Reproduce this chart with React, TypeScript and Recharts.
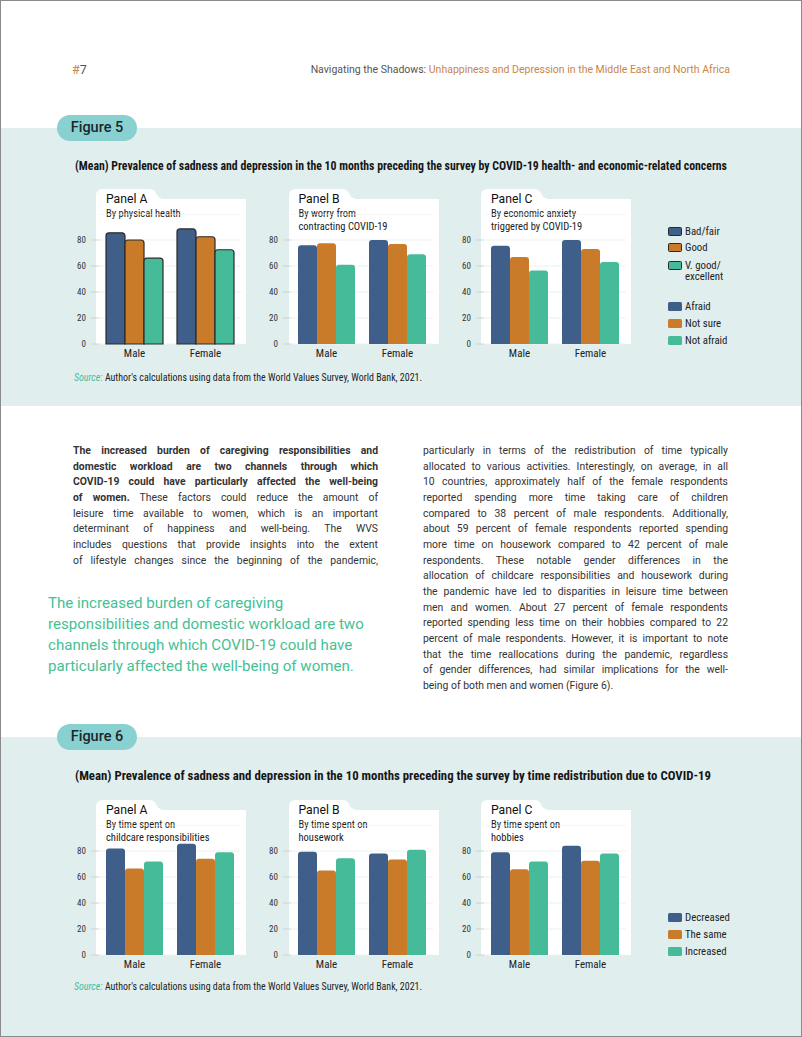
import React from "react";
import { BarChart, Bar, XAxis, YAxis, CartesianGrid } from "recharts";

const genders = ["Male", "Female"];

// Figure 5
const healthBadFair = [85.5, 88.5];
const healthGood = [80, 82.5];
const healthVeryGood = [66, 72.5];
const worryAfraid = [76, 80];
const worryNotSure = [77.5, 77];
const worryNotAfraid = [61, 69];
const anxietyAfraid = [75.5, 80];
const anxietyNotSure = [67, 73];
const anxietyNotAfraid = [56.5, 63];

// Figure 6
const childcareDecreased = [82, 85.5];
const childcareSame = [66.5, 74];
const childcareIncreased = [72, 79];
const houseworkDecreased = [79.5, 78];
const houseworkSame = [65, 73.5];
const houseworkIncreased = [74.5, 81];
const hobbiesDecreased = [79, 84];
const hobbiesSame = [66, 72.5];
const hobbiesIncreased = [72, 78];

const yTicks = [0, 20, 40, 60, 80];

const BLUE = "#3f5e89";
const ORANGE = "#c97b2a";
const GREEN = "#46bb99";
const BG = "#e1eeee";
const PILL = "#88d1d0";
const TEXT = "#333";

const SANS = "Roboto, 'Noto Sans', sans-serif";
const COND = "'Roboto Condensed', 'Liberation Sans Narrow', 'DejaVu Sans Condensed', Roboto, sans-serif";

const rows = (a: number[], b: number[], c: number[]) =>
  genders.map((g, i) => ({ gender: g, a: a[i], b: b[i], c: c[i] }));

const abs = (left: number, top: number, extra: React.CSSProperties = {}): React.CSSProperties => ({
  position: "absolute",
  left,
  top,
  ...extra,
});

type PanelProps = {
  x: number;
  bottom: number;
  title: string;
  sub: string[];
  data: any[];
  outlined?: boolean;
};

const Panel = ({ x, bottom, title, sub, data, outlined }: PanelProps) => {
  const w = 150;
  const h = 155;
  const tw = 57;
  const th = 10;
  const top = bottom - h;
  const d = `M0 ${h} L0 7 Q0 0 7 0 L${tw - 4} 0 Q${tw + 1} 0 ${tw + 3} 4 Q${tw + 5} ${th} ${tw + 12} ${th} L${w} ${th} L${w} ${h} Z`;
  const stroke = outlined ? "#2a2a2a" : "none";
  return (
    <>
      <svg style={abs(x, top)} width={w} height={h}>
        <path d={d} fill="#fff" />
      </svg>
      <div style={abs(x + 10, top + 3, { fontFamily: SANS, fontSize: 12.2, lineHeight: "14px", color: "#111" })}>
        {title}
      </div>
      <div style={abs(x + 10, top + 17.5, { fontFamily: COND, fontSize: 10.5, lineHeight: "13px", color: "#222", whiteSpace: "nowrap" })}>
        {sub.map((s) => (
          <div key={s}>{s}</div>
        ))}
      </div>
      <div style={abs(x + 2.5 - 30, bottom - 130)}>
        <BarChart
          width={172}
          height={152}
          data={data}
          margin={{ top: 0, right: 0, left: 0, bottom: 0 }}
          barGap={0}
          barCategoryGap={7}
        >
          <CartesianGrid vertical={false} stroke="#edf1f1" />
          <XAxis
            dataKey="gender"
            axisLine={false}
            tickLine={false}
            tickSize={0}
            tickMargin={5}
            height={22}
            interval={0}
            tick={{ fontSize: 11, fill: "#222", fontFamily: COND }}
          />
          <YAxis
            domain={[0, 100]}
            ticks={yTicks}
            width={30}
            axisLine={false}
            tickSize={8}
            tickMargin={5}
            tickLine={{ stroke: "#c9d3d3" }}
            tick={{ fontSize: 9, fill: TEXT, fontFamily: COND }}
          />
          <Bar dataKey="a" fill={BLUE} barSize={19} radius={[3, 3, 0, 0]} stroke={stroke} strokeWidth={1.2} isAnimationActive={false} />
          <Bar dataKey="b" fill={ORANGE} barSize={19} radius={[3, 3, 0, 0]} stroke={stroke} strokeWidth={1.2} isAnimationActive={false} />
          <Bar dataKey="c" fill={GREEN} barSize={19} radius={[3, 3, 0, 0]} stroke={stroke} strokeWidth={1.2} isAnimationActive={false} />
        </BarChart>
      </div>
    </>
  );
};

type LegendItem = { color: string; label: string[]; y: number; outlined?: boolean };

const Legend = ({ items }: { items: LegendItem[] }) => (
  <>
    {items.map((it) => (
      <React.Fragment key={it.label.join()}>
        <div
          style={abs(668, it.y - 4.5, {
            width: 14,
            height: 9,
            background: it.color,
            borderRadius: 1.5,
            boxSizing: "border-box",
            border: it.outlined ? "1px solid #2a2a2a" : "none",
          })}
        />
        <div style={abs(685, it.y - 5.5, { fontFamily: COND, fontSize: 10.8, lineHeight: "11px", color: "#222" })}>
          {it.label.map((l) => (
            <div key={l}>{l}</div>
          ))}
        </div>
      </React.Fragment>
    ))}
  </>
);

const Pill = ({ top, text }: { top: number; text: string }) => (
  <div
    style={abs(57, top, {
      width: 80,
      height: 26,
      borderRadius: 13,
      background: PILL,
      fontFamily: SANS,
      fontWeight: 500,
      fontSize: 14.5,
      lineHeight: "26px",
      textAlign: "center",
      color: "#1c262c",
    })}
  >
    {text}
  </div>
);

const Source = ({ top }: { top: number }) => (
  <div
    style={abs(74, top, {
      fontFamily: COND,
      fontSize: 10.8,
      lineHeight: "14px",
      color: "#222",
      whiteSpace: "nowrap",
      transform: "scaleX(0.92)",
      transformOrigin: "0 0",
    })}
  >
    <span style={{ color: GREEN, fontStyle: "italic" }}>Source:</span> Author's calculations using data from the World Values
    Survey, World Bank, 2021.
  </div>
);

const Title = ({ top, text, size, squeeze }: { top: number; text: string; size: number; squeeze: number }) => (
  <div
    style={abs(75, top, {
      fontFamily: COND,
      fontWeight: 700,
      fontSize: size,
      lineHeight: "16px",
      color: "#161616",
      whiteSpace: "nowrap",
      transform: `scaleX(${squeeze})`,
      transformOrigin: "0 0",
    })}
  >
    {text}
  </div>
);

const leftLines: React.ReactNode[] = [
  <b>The increased burden of caregiving responsibilities and</b>,
  <b>domestic workload are two channels through which</b>,
  <b>COVID-19 could have particularly affected the well-being</b>,
  <><b>of women.</b> These factors could reduce the amount of</>,
  "leisure time available to women, which is an important",
  "determinant of happiness and well-being. The WVS",
  "includes questions that provide insights into the extent",
  "of lifestyle changes since the beginning of the pandemic,",
];

const rightLines = [
  "particularly in terms of the redistribution of time typically",
  "allocated to various activities. Interestingly, on average, in all",
  "10 countries, approximately half of the female respondents",
  "reported spending more time taking care of children",
  "compared to 38 percent of male respondents. Additionally,",
  "about 59 percent of female respondents reported spending",
  "more time on housework compared to 42 percent of male",
  "respondents. These notable gender differences in the",
  "allocation of childcare responsibilities and housework during",
  "the pandemic have led to disparities in leisure time between",
  "men and women. About 27 percent of female respondents",
  "reported spending less time on their hobbies compared to 22",
  "percent of male respondents. However, it is important to note",
  "that the time reallocations during the pandemic, regardless",
  "of gender differences, had similar implications for the well-",
  "being of both men and women (Figure 6).",
];

const quoteLines = [
  "The increased burden of caregiving",
  "responsibilities and domestic workload are two",
  "channels through which COVID-19 could have",
  "particularly affected the well-being of women.",
];

const Column = ({ left, lines, lastPlain }: { left: number; lines: React.ReactNode[]; lastPlain?: boolean }) => (
  <div style={abs(left, 443.2, { width: 305, fontFamily: SANS, fontSize: 10.4, lineHeight: "15.65px", color: TEXT })}>
    {lines.map((l, i) => {
      const last = lastPlain && i === lines.length - 1;
      return (
        <div
          key={i}
          style={{
            height: 15.65,
            whiteSpace: "nowrap",
            textAlign: last ? "left" : "justify",
            textAlignLast: last ? "left" : "justify",
          }}
        >
          {l}
        </div>
      );
    })}
  </div>
);

const S = 611;

export default function App() {
  return (
    <div style={abs(0, 0, { width: 802, height: 1037, background: "#fff", overflow: "hidden" })}>
      {/* header */}
      <div style={abs(72, 62, { fontFamily: SANS, fontSize: 12.5, lineHeight: "16px", color: "#555" })}>
        <span style={{ color: "#c8864a" }}>#</span>7
      </div>
      <div style={abs(0, 62, { width: 730, textAlign: "right", fontFamily: SANS, fontSize: 10.5, lineHeight: "16px", color: "#555" })}>
        Navigating the Shadows: <span style={{ color: "#c8864a" }}>Unhappiness and Depression in the Middle East and North Africa</span>
      </div>

      {/* figure 5 */}
      <div style={abs(0, 128, { width: 802, height: 278, background: BG })} />
      <Pill top={115} text="Figure 5" />
      <Title
        top={157.5}
        size={12.8}
        squeeze={0.922}
        text="(Mean) Prevalence of sadness and depression in the 10 months preceding the survey by COVID-19 health- and economic-related concerns"
      />
      <Panel x={96} bottom={344} title="Panel A" sub={["By physical health"]} data={rows(healthBadFair, healthGood, healthVeryGood)} outlined />
      <Panel x={288.5} bottom={344} title="Panel B" sub={["By worry from", "contracting COVID-19"]} data={rows(worryAfraid, worryNotSure, worryNotAfraid)} />
      <Panel x={481} bottom={344} title="Panel C" sub={["By economic anxiety", "triggered by COVID-19"]} data={rows(anxietyAfraid, anxietyNotSure, anxietyNotAfraid)} />
      <Legend
        items={[
          { color: BLUE, label: ["Bad/fair"], y: 231, outlined: true },
          { color: ORANGE, label: ["Good"], y: 247.7, outlined: true },
          { color: GREEN, label: ["V. good/", "excellent"], y: 265, outlined: true },
          { color: BLUE, label: ["Afraid"], y: 306.3 },
          { color: ORANGE, label: ["Not sure"], y: 323.7 },
          { color: GREEN, label: ["Not afraid"], y: 340.3 },
        ]}
      />
      <Source top={371} />

      {/* text */}
      <Column left={73} lines={leftLines} />
      <Column left={423} lines={rightLines} lastPlain />
      <div style={abs(48, 592.5, { fontFamily: SANS, fontSize: 15.1, lineHeight: "21px", color: "#45bf96", whiteSpace: "nowrap" })}>
        {quoteLines.map((q) => (
          <div key={q}>{q}</div>
        ))}
      </div>

      {/* figure 6 */}
      <div style={abs(0, 737, { width: 802, height: 300, background: BG })} />
      <Pill top={724} text="Figure 6" />
      <Title
        top={768}
        size={12.8}
        squeeze={1}
        text="(Mean) Prevalence of sadness and depression in the 10 months preceding the survey by time redistribution due to COVID-19"
      />
      <Panel x={96} bottom={344 + S} title="Panel A" sub={["By time spent on", "childcare responsibilities"]} data={rows(childcareDecreased, childcareSame, childcareIncreased)} />
      <Panel x={288.5} bottom={344 + S} title="Panel B" sub={["By time spent on", "housework"]} data={rows(houseworkDecreased, houseworkSame, houseworkIncreased)} />
      <Panel x={481} bottom={344 + S} title="Panel C" sub={["By time spent on", "hobbies"]} data={rows(hobbiesDecreased, hobbiesSame, hobbiesIncreased)} />
      <Legend
        items={[
          { color: BLUE, label: ["Decreased"], y: 917 },
          { color: ORANGE, label: ["The same"], y: 934 },
          { color: GREEN, label: ["Increased"], y: 951 },
        ]}
      />
      <Source top={980} />

      {/* page frame */}
      <div style={abs(0, 0, { width: 802, height: 1037, boxSizing: "border-box", border: "1px solid #8a8a8a", pointerEvents: "none" })} />
    </div>
  );
}
